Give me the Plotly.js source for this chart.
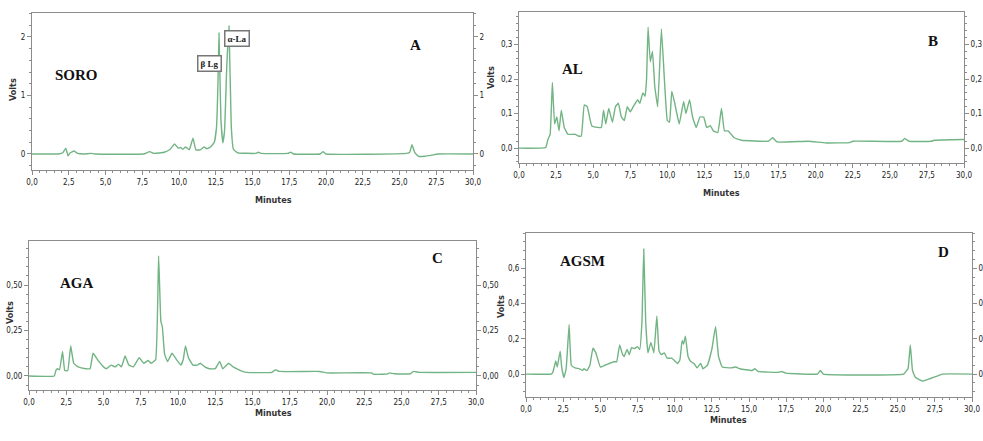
<!DOCTYPE html>
<html>
<head>
<meta charset="utf-8">
<script src="https://cdn.plot.ly/plotly-3.0.1.min.js"></script>
<style>html,body{margin:0;padding:0;background:#fff;}#chart{width:983px;height:441px;}</style>
</head>
<body>
<div id="chart"></div>
<script>
// ---- Data (minutes, volts) ----
const soroTime = [0,1.8,2.1,2.3,2.45,2.6,2.85,3.1,3.5,4.0,4.3,7.6,8.0,8.3,9.0,9.4,9.7,9.95,10.1,10.25,10.45,10.7,10.95,11.15,11.45,11.7,11.9,12.15,12.4,12.55,12.65,12.72,12.85,12.98,13.1,13.25,13.4,13.55,13.7,14.0,15.2,15.4,15.6,17.4,17.6,17.8,19.6,19.8,20.0,25.5,25.7,25.85,26.05,26.3,26.7,27.2,27.6,30];
const soroVolts = [0,0,0.02,0.1,-0.03,0.02,0.05,0.01,0,0.01,0,0,0.04,0.01,0.03,0.08,0.17,0.1,0.11,0.08,0.12,0.07,0.27,0.07,0.07,0.12,0.09,0.12,0.2,0.45,1.2,2.07,0.6,0.19,0.4,1.5,2.19,0.5,0.08,0.02,0.01,0.03,0.01,0.01,0.03,0,0,0.04,0,0.01,0.03,0.16,0.02,-0.04,-0.04,-0.02,0,0];

const alTime = [0,1.8,1.95,2.1,2.25,2.4,2.55,2.7,2.85,3.05,3.3,3.8,4.0,4.2,4.4,4.6,4.9,5.3,5.55,5.7,5.85,6.05,6.3,6.5,6.7,6.9,7.1,7.3,7.5,7.7,8.0,8.15,8.35,8.5,8.6,8.7,8.85,9.0,9.15,9.35,9.6,9.8,10.0,10.15,10.3,10.5,10.8,11.1,11.25,11.5,11.7,11.95,12.2,12.45,12.65,12.9,13.1,13.4,13.65,13.85,14.1,14.5,15.0,16.8,17.1,17.4,19.5,20.7,22.3,22.5,25.8,26.0,26.3,27.8,28.0,30];
const alVolts = [0,0.002,0.025,0.04,0.19,0.07,0.09,0.05,0.11,0.06,0.04,0.04,0.035,0.035,0.125,0.12,0.065,0.06,0.06,0.11,0.07,0.115,0.075,0.12,0.13,0.09,0.08,0.12,0.105,0.12,0.14,0.13,0.16,0.15,0.2,0.35,0.25,0.28,0.18,0.12,0.345,0.2,0.08,0.075,0.165,0.13,0.07,0.135,0.1,0.14,0.09,0.06,0.09,0.09,0.06,0.065,0.05,0.045,0.115,0.05,0.05,0.03,0.023,0.02,0.03,0.018,0.02,0.015,0.016,0.02,0.02,0.028,0.02,0.02,0.023,0.025];

const agaTime = [0,1.7,1.8,1.9,2.05,2.25,2.4,2.6,2.8,3.0,3.3,3.8,4.1,4.3,4.6,5.0,5.2,5.5,5.8,6.0,6.2,6.45,6.7,7.0,7.4,7.7,8.0,8.2,8.5,8.7,8.85,8.95,9.1,9.3,9.6,9.9,10.2,10.35,10.5,10.7,11.0,11.3,11.5,11.8,12.1,12.5,12.8,13.0,13.4,13.7,14.2,14.6,16.3,16.55,16.8,19.5,20.0,23.0,23.1,24.0,24.2,24.5,25.6,25.8,26.2,30];
const agaVolts = [0,0,0.03,0.04,0.035,0.135,0.03,0.03,0.165,0.07,0.05,0.04,0.04,0.125,0.09,0.05,0.04,0.06,0.05,0.065,0.05,0.11,0.06,0.05,0.1,0.07,0.085,0.07,0.09,0.66,0.3,0.27,0.12,0.08,0.125,0.09,0.06,0.09,0.165,0.1,0.06,0.06,0.07,0.05,0.04,0.04,0.08,0.04,0.07,0.05,0.03,0.02,0.02,0.035,0.025,0.025,0.017,0.017,0.01,0.01,0.017,0.012,0.012,0.025,0.02,0.02];

const agsmTime = [0,1.7,1.8,1.9,2.0,2.1,2.3,2.4,2.55,2.7,2.9,3.05,3.3,3.6,3.8,3.9,4.1,4.3,4.5,4.7,5.0,5.3,5.6,5.9,6.1,6.3,6.5,6.6,6.8,6.95,7.1,7.3,7.5,7.65,7.8,7.92,8.05,8.2,8.4,8.6,8.8,8.95,9.1,9.3,9.5,9.8,10.0,10.2,10.35,10.5,10.6,10.72,10.9,11.1,11.3,11.5,11.75,11.9,12.2,12.5,12.75,12.95,13.2,13.8,14.1,14.4,15.2,15.4,15.6,17.0,17.2,17.5,19.6,19.8,20.0,25.4,25.6,25.7,25.85,26.0,26.2,26.7,27.2,27.7,28.0,30];
const agsmVolts = [0,0,0.01,0.04,0.075,0.04,0.13,0.04,-0.02,0.03,0.28,0.05,0.035,0.03,0.02,0.03,0.02,0.05,0.147,0.12,0.04,0.05,0.06,0.07,0.07,0.165,0.11,0.1,0.14,0.11,0.15,0.145,0.155,0.14,0.3,0.71,0.3,0.12,0.18,0.12,0.33,0.13,0.11,0.12,0.09,0.09,0.075,0.06,0.08,0.19,0.17,0.215,0.1,0.07,0.06,0.035,0.06,0.03,0.05,0.14,0.27,0.1,0.04,0.035,0.04,0.03,0.02,0.03,0.015,0.01,0.015,0.005,0,0.02,0,0,0.02,0.03,0.165,0.02,-0.02,-0.04,-0.025,-0.01,0,0];

const sampleNames = ["SORO", "AL", "AGA", "AGSM"];
const panelLetters = ["A", "B", "C", "D"];
const xTickVals = [0,2.5,5,7.5,10,12.5,15,17.5,20,22.5,25,27.5,30];
const yTicksA = [0,1,2];
const yTicksB = [0,0.1,0.2,0.3];
const yTicksC = [0,0.25,0.5];
const yTicksD = [0,0.2,0.4,0.6];

// ---- Styling ----
const lineColor = "#72b483";
const frameColor = "#8c8c8c";
const tickFont = {family: "Liberation Sans Narrow, DejaVu Sans Condensed, Arial Narrow, sans-serif", size: 8, color: "#222"};
const titleFont = {family: "Liberation Sans Narrow, DejaVu Sans Condensed, sans-serif", size: 9, color: "#333", weight: "bold"};
const labelFont = {family: "Liberation Serif, Times New Roman, serif", size: 15, color: "#111", weight: "bold"};

const W = 983, H = 441;
const px = v => v / W;
const py = v => 1 - v / H;

// panel geometry in pixels: left, right, top, bottom, y range, y-title x and y
const panels = [
  {l: 32,  r: 473, t: 13,  b: 170, yr: [-0.274, 2.41], ticks: yTicksA, fmt: "d",   vx: 13,  vy: 90},
  {l: 519, r: 964, t: 12,  b: 163, yr: [-0.043, 0.394], ticks: yTicksB, fmt: ".1f", vx: 491, vy: 78},
  {l: 29,  r: 476, t: 241, b: 390, yr: [-0.077, 0.742], ticks: yTicksC, fmt: ".2f", vx: 10,  vy: 313},
  {l: 526, r: 972, t: 233, b: 397, yr: [-0.13, 0.80],  ticks: yTicksD, fmt: ".1f", vx: 501, vy: 307}
];
const series = [[soroTime, soroVolts],[alTime, alVolts],[agaTime, agaVolts],[agsmTime, agsmVolts]];

const traces = [];
const layout = {
  width: W, height: H,
  margin: {l: 0, r: 0, t: 0, b: 0},
  paper_bgcolor: "#fff", plot_bgcolor: "#fff",
  showlegend: false,
  separators: ",.",
  annotations: []
};

panels.forEach((p, i) => {
  const n = i + 1;
  const xs = n === 1 ? "" : String(n);
  const ysR = String(n + 4);
  // the trace is drawn against the right-hand volts axis (same range as the left one)
  traces.push({
    x: series[i][0], y: series[i][1],
    type: "scatter", mode: "lines",
    line: {color: lineColor, width: 1.4, shape: "spline", smoothing: 0.3},
    xaxis: "x" + xs, yaxis: "y" + ysR, hoverinfo: "skip"
  });
  layout["xaxis" + xs] = {
    domain: [px(p.l), px(p.r)], range: [0, 30], anchor: "y" + xs,
    tickvals: xTickVals, tickformat: ".1f",
    ticks: "outside", ticklen: 4, tickcolor: frameColor, tickwidth: 1,
    minor: {dtick: 0.5, ticks: "outside", ticklen: 2, tickcolor: frameColor, showgrid: false},
    showline: true, linecolor: frameColor, linewidth: 1, mirror: true,
    showgrid: false, zeroline: false, tickfont: tickFont, fixedrange: true
  };
  layout["yaxis" + xs] = {
    domain: [py(p.b), py(p.t)], range: p.yr, anchor: "x" + xs,
    tickvals: p.ticks, tickformat: p.fmt,
    ticks: "outside", ticklen: 4, tickcolor: frameColor,
    minor: {nticks: 5, ticks: "outside", ticklen: 2, tickcolor: frameColor, showgrid: false},
    showline: true, linecolor: frameColor, linewidth: 1, mirror: true,
    showgrid: false, zeroline: false, tickfont: tickFont, fixedrange: true
  };
  layout["yaxis" + ysR] = {
    overlaying: "y" + xs, side: "right", anchor: "x" + xs,
    range: p.yr, tickvals: p.ticks, tickformat: p.fmt,
    ticks: "outside", ticklen: 4, tickcolor: frameColor,
    minor: {nticks: 5, ticks: "outside", ticklen: 2, tickcolor: frameColor, showgrid: false},
    showline: false, showgrid: false, zeroline: false, tickfont: tickFont, fixedrange: true
  };
  layout.annotations.push({
    text: "Minutes", xref: "paper", yref: "paper",
    x: px((p.l + p.r) / 2), y: py(p.b + 30), showarrow: false, font: titleFont
  });
  layout.annotations.push({
    text: "Volts", xref: "paper", yref: "paper", textangle: -90,
    xanchor: "center", yanchor: "middle",
    x: px(p.vx), y: py(p.vy), showarrow: false, font: titleFont
  });
});

// sample names and panel letters (positioned in data coordinates)
const namePos = [[3.0, 1.35], [3.6, 0.23], [3.2, 0.51], [3.8, 0.64]];
const letterPos = [[26.1, 1.87], [27.9, 0.31], [27.4, 0.65], [28.1, 0.69]];
["", "2", "3", "4"].forEach((s, i) => {
  layout.annotations.push({text: sampleNames[i], xref: "x" + s, yref: "y" + s,
    x: namePos[i][0], y: namePos[i][1], showarrow: false, font: labelFont});
  layout.annotations.push({text: panelLetters[i], xref: "x" + s, yref: "y" + s,
    x: letterPos[i][0], y: letterPos[i][1], showarrow: false, font: labelFont});
});

// peak labels on SORO
const boxFont = {family: "Liberation Serif, Times New Roman, serif", size: 9, color: "#222", weight: "bold"};
layout.annotations.push({text: "β Lg", xref: "x", yref: "y", x: 12.1, y: 1.54,
  showarrow: false, font: boxFont, bordercolor: "#777", borderwidth: 1.5, borderpad: 2, bgcolor: "#fff"});
layout.annotations.push({text: "α-La", xref: "x", yref: "y", x: 13.95, y: 1.98,
  showarrow: false, font: boxFont, bordercolor: "#777", borderwidth: 1.5, borderpad: 2, bgcolor: "#fff"});

Plotly.newPlot("chart", traces, layout, {staticPlot: true, displayModeBar: false});
</script>
</body>
</html>
